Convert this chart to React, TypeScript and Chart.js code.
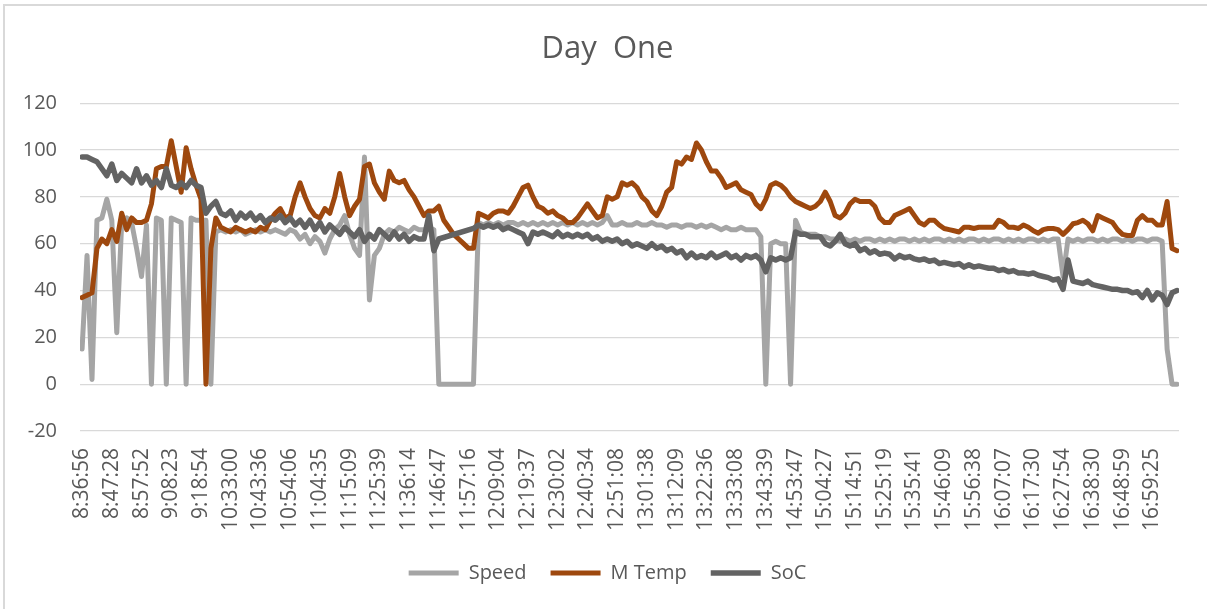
import React, { useEffect, useRef } from 'react';
import { Chart, registerables } from 'chart.js';

Chart.register(...registerables);

const chartTitle = 'Day  One';

const timeLabels = [
  '8:36:56', '8:47:28', '8:57:52', '9:08:23', '9:18:54', '10:33:00', '10:43:36', '10:54:06',
  '11:04:35', '11:15:09', '11:25:39', '11:36:14', '11:46:47', '11:57:16', '12:09:04', '12:19:37',
  '12:30:02', '12:40:34', '12:51:08', '13:01:38', '13:12:09', '13:22:36', '13:33:08', '13:43:39',
  '14:53:47', '15:04:27', '15:14:51', '15:25:19', '15:35:41', '15:46:09', '15:56:38', '16:07:07',
  '16:17:30', '16:27:54', '16:38:30', '16:48:59', '16:59:25',
];

// readings sampled six times between consecutive tick labels
const samplesPerLabel = 6;

const speed = [
  15, 55, 2, 70, 71, 79,
  70, 22, 69, 71, 69, 58,
  46, 68, 0, 71, 70, 0,
  71, 70, 69, 0, 71, 70,
  70, 70, 0, 65, 66, 65,
  66, 65, 66, 64, 65, 66,
  65, 66, 65, 66, 65, 64,
  66, 65, 62, 64, 60, 63,
  61, 56, 62, 66, 68, 72,
  64, 58, 55, 97, 36, 55,
  58, 64, 66, 65, 67, 66,
  65, 67, 66, 66, 67, 66,
  0, 0, 0, 0, 0, 0,
  0, 0, 69, 68, 69, 68,
  69, 68, 69, 69, 68, 69,
  68, 69, 68, 69, 68, 69,
  68, 69, 68, 69, 68, 69,
  68, 69, 68, 69, 72, 68,
  68, 69, 68, 68, 69, 68,
  68, 69, 68, 68, 67, 68,
  68, 67, 68, 68, 67, 68,
  67, 68, 67, 66, 67, 66,
  66, 67, 66, 66, 66, 63,
  0, 60, 61, 60, 60, 0,
  70, 65, 64, 64, 64, 63,
  63, 62, 62, 61, 62, 61,
  62, 61, 62, 62, 61, 62,
  61, 62, 61, 62, 62, 61,
  62, 61, 62, 61, 62, 62,
  61, 62, 61, 62, 61, 62,
  62, 61, 62, 61, 62, 62,
  61, 62, 61, 62, 61, 62,
  62, 61, 62, 61, 62, 62,
  46, 62, 61, 62, 61, 62,
  62, 61, 62, 61, 62, 62,
  61, 62, 61, 62, 62, 61,
  62, 62, 61, 15, 0, 0,
];

const mTemp = [
  37, 38, 39, 58, 62, 60,
  66, 61, 73, 66, 71, 69,
  69, 70, 77, 92, 93, 93,
  104, 93, 82, 101, 92, 85,
  79, 0, 58, 71, 67, 66,
  65, 67, 66, 65, 66, 65,
  67, 66, 70, 73, 75, 71,
  72, 80, 86, 80, 75, 72,
  71, 75, 73, 80, 90, 80,
  72, 76, 79, 93, 94, 86,
  82, 79, 91, 87, 86, 87,
  83, 80, 76, 72, 74, 74,
  76, 70, 67, 64, 62, 60,
  58, 58, 73, 72, 71, 73,
  74, 74, 73, 76, 80, 84,
  85, 80, 76, 75, 73, 74,
  72, 71, 69, 69, 71, 74,
  77, 74, 71, 72, 80, 79,
  80, 86, 85, 86, 84, 80,
  78, 74, 72, 76, 82, 84,
  95, 94, 97, 96, 103, 100,
  95, 91, 91, 88, 84, 85,
  86, 83, 82, 81, 77, 75,
  79, 85, 86, 85, 83, 80,
  78, 77, 76, 75, 76, 78,
  82, 78, 72, 71, 73, 77,
  79, 78, 78, 78, 76, 71,
  69, 69, 72, 73, 74, 75,
  72, 69, 68, 70, 70, 68,
  66.5, 66, 65.5, 65, 67, 67,
  66.5, 67, 67, 67, 67, 70,
  69, 67, 67, 66.5, 68, 67,
  65.5, 64.5, 66, 66.5, 66.5, 66,
  64, 66, 68.5, 69, 70, 68.5,
  65.5, 72, 71, 70, 69, 66,
  64, 63.5, 63.5, 70, 72, 70,
  70, 68, 68, 78, 58, 57,
];

const soc = [
  97, 97, 96, 95, 92, 89,
  94, 87, 90, 88, 86, 92,
  86, 89, 85, 87, 84, 92,
  85, 84, 86, 84, 87, 85,
  84, 73, 76, 78, 73, 72,
  74, 70, 73, 71, 73, 70,
  72, 69, 71, 70, 72, 69,
  71, 68, 70, 67, 70, 66,
  69, 65, 68, 66, 64, 67,
  65, 63, 66, 61, 64, 62,
  66, 64, 62, 65, 62, 64,
  61, 63, 62, 62, 72, 57,
  62, null, null, null, null, null,
  null, 66.5, 68, 67, 68, 67,
  68, 66, 67, 66, 65, 64,
  60, 65, 64, 65, 64, 63,
  65, 63, 64, 63, 64, 63,
  64, 62, 63, 61, 62, 61,
  62, 60, 61, 59, 60, 59,
  58, 60, 58, 59, 57, 58,
  56, 57, 54, 56, 54, 55,
  54, 56, 54, 55, 56, 54,
  55, 53, 55, 54, 55, 53,
  48, 54, 53, 54, 53, 54,
  65, 64, 64, 63, 63, 63,
  60, 59, 61, 64, 60, 59,
  60, 57, 58, 56, 57, 55.5,
  56, 55.5, 53.5, 55, 54, 54.5,
  53.5, 53, 53.5, 52.5, 53, 51.5,
  52, 51.5, 51, 51.5, 50, 51,
  50, 50.5, 50, 49.5, 49.5, 48.5,
  49, 48, 48.5, 47.5, 47.5, 47,
  47.5, 46.5, 46, 45.5, 44.5, 45,
  40.5, 53, 44, 43.5, 43, 44,
  42.5, 42, 41.5, 41, 40.5, 40.5,
  40, 40, 39, 39.5, 37, 40,
  36, 39, 38, 34, 39, 40,
];

const yTicks = { min: -20, max: 120, step: 20 };

const toPoints = (values: (number | null)[]) =>
  values.map((v, i) => ({ x: i / samplesPerLabel, y: v }));

const FONT = "'Open Sans', sans-serif";
const TEXT = '#595959';

export default function App() {
  const canvasRef = useRef<HTMLCanvasElement | null>(null);

  useEffect(() => {
    document.body.style.margin = '0';
    const canvas = canvasRef.current;
    if (!canvas) return;
    Chart.defaults.font.family = FONT;
    const chart = new Chart(canvas, {
      type: 'line',
      data: {
        datasets: [
          {
            label: 'Speed',
            data: toPoints(speed),
            borderColor: '#A5A5A5',
            backgroundColor: '#A5A5A5',
            borderWidth: 5,
            order: 3,
          },
          {
            label: 'M Temp',
            data: toPoints(mTemp),
            borderColor: '#9E480E',
            backgroundColor: '#9E480E',
            borderWidth: 5,
            order: 2,
          },
          {
            label: 'SoC',
            data: toPoints(soc),
            borderColor: '#636363',
            backgroundColor: '#636363',
            borderWidth: 5.5,
            spanGaps: true,
            order: 1,
          },
        ],
      },
      options: {
        responsive: false,
        animation: false,
        elements: {
          point: { radius: 0, hoverRadius: 0 },
          line: { tension: 0, borderJoinStyle: 'round', borderCapStyle: 'round' },
        },
        layout: { padding: { left: 36, right: 28, top: 0, bottom: 16 } },
        plugins: {
          tooltip: { enabled: false },
          title: {
            display: true,
            text: chartTitle,
            color: TEXT,
            font: { family: FONT, size: 31, weight: 'normal' },
            padding: { top: 31, bottom: 35 },
          },
          legend: {
            position: 'bottom',
            labels: {
              usePointStyle: true,
              pointStyle: 'line',
              pointStyleWidth: 50,
              padding: 24,
              color: TEXT,
              font: { family: FONT, size: 20 },
              sort: (a: any, b: any) => a.datasetIndex - b.datasetIndex,
            },
          },
        },
        scales: {
          x: {
            type: 'linear',
            min: -0.07,
            max: 36.9,
            afterFit: (s: any) => {
              s.height = 108;
            },
            afterBuildTicks: (s: any) => {
              s.ticks = timeLabels.map((_, i) => ({ value: i }));
            },
            grid: { display: false, drawTicks: false },
            border: { display: false },
            ticks: {
              autoSkip: false,
              minRotation: 90,
              maxRotation: 90,
              padding: 17,
              color: TEXT,
              font: { family: FONT, size: 21 },
              callback: (v: any) => timeLabels[Math.round(Number(v))] ?? '',
            },
          },
          y: {
            min: yTicks.min,
            max: yTicks.max,
            afterFit: (s: any) => {
              s.width = 44;
              // let the tick labels extend left of the narrow axis box
              s._computeLabelArea = () => undefined;
            },
            grid: { color: '#D9D9D9', lineWidth: 1.3, drawTicks: false },
            border: { display: false },
            ticks: {
              stepSize: yTicks.step,
              padding: 23,
              crossAlign: 'near',
              color: TEXT,
              font: { family: FONT, size: 20 },
            },
          },
        },
      },
    } as any);
    return () => chart.destroy();
  }, []);

  return (
    <div
      style={{
        position: 'relative',
        width: 1207,
        height: 609,
        overflow: 'hidden',
        background: '#ffffff',
      }}
    >
      <div
        style={{
          position: 'absolute',
          left: 3,
          top: 4,
          width: 1240,
          height: 640,
          border: '2px solid #D9D9D9',
          boxSizing: 'border-box',
        }}
      />
      <canvas
        ref={canvasRef}
        width={1207}
        height={609}
        style={{ position: 'absolute', left: 0, top: 0, width: 1207, height: 609 }}
      />
    </div>
  );
}
